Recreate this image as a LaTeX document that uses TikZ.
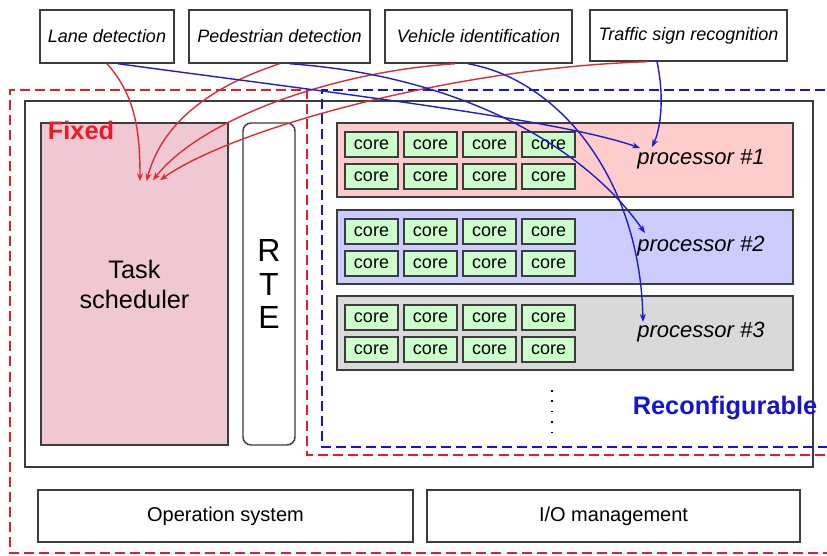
\documentclass[tikz,border=0pt]{standalone}
\usepackage{fontspec}
\setmainfont{Liberation Sans}
\usetikzlibrary{arrows.meta,calc}
\definecolor{dashred}{RGB}{232,28,36}
\definecolor{dashblue}{RGB}{20,20,210}
\definecolor{arrred}{RGB}{220,45,50}
\definecolor{arrblue}{RGB}{30,30,200}
\definecolor{edge}{RGB}{60,60,60}
\definecolor{tsfill}{RGB}{240,200,212}
\definecolor{pone}{RGB}{255,204,204}
\definecolor{ptwo}{RGB}{204,204,255}
\definecolor{pthree}{RGB}{217,217,217}
\definecolor{corefill}{RGB}{204,255,204}
\begin{document}
\begin{tikzpicture}[x=0.75pt,y=-0.75pt,
  wh/.style 2 args={minimum width=#1*0.75pt,minimum height=#2*0.75pt},
  box/.style={draw=edge,line width=1.1pt,inner sep=0pt,fill=white},
  toplbl/.style={box,font=\itshape\fontsize{13.5}{16}\selectfont},
  procbox/.style={draw=edge,line width=1.1pt,inner sep=0pt,wh={456}{74}},
  corebox/.style={draw=edge,line width=1.1pt,inner sep=0pt,fill=corefill,wh={53}{25},font=\fontsize{13.5}{16}\selectfont},
  plabel/.style={font=\itshape\fontsize{16.5}{20}\selectfont,inner sep=1pt},
  reddash/.style={draw=dashred,line width=2.2pt,dash pattern=on 7.5pt off 3.8pt},
  bluedash/.style={draw=dashblue,line width=2.2pt,dash pattern=on 7.5pt off 3.8pt},
  redarr/.style={draw=arrred,line width=1.05pt,-{Stealth[length=6pt,width=4.5pt]}},
  bluearr/.style={draw=arrblue,line width=1.05pt,-{Stealth[length=6pt,width=4.5pt]}}]
\useasboundingbox (0,0) rectangle (827,556);
\clip (0,0) rectangle (827,556);
\fill[white] (0,0) rectangle (827,556);
% top task boxes
\node[toplbl,wh={134}{53}] (lane) at (107,36.5) {Lane detection};
\node[toplbl,wh={181}{53}] (ped) at (279.5,36.5) {Pedestrian detection};
\node[toplbl,wh={187}{53}] (veh) at (478.5,36.5) {Vehicle identification};
\node[toplbl,wh={197}{51}] (traf) at (688.5,35.5) {Traffic sign recognition};
% main box
\node[box,wh={788}{366}] (main) at (419,284) {};
\node[box,fill=tsfill,wh={187}{322},align=center,
  font=\fontsize{19}{22.5}\selectfont] (ts) at (134.5,284) {Task\\scheduler};
\node[box,rounded corners=6pt,wh={52}{322},align=center,
  font=\fontsize{24}{25}\selectfont] (rte) at (269,284) {R\\T\\E};
% processors
\node[procbox,fill=pone] (p1) at (565,160) {};
\node[procbox,fill=ptwo] (p2) at (565,247) {};
\node[procbox,fill=pthree] (p3) at (565,333) {};
\foreach \p/\t in {1/123,2/210,3/296}{
  \foreach \k/\x in {1/345,2/404,3/463,4/522}{
    \foreach \r/\dy in {1/9,2/41}{
      \node[corebox] (c\p\r\k) at (\x+26.5,\t+\dy+12.5) {core};
    }}}
\node[plabel] (pl1) at (701,159) {processor \#1};
\node[plabel] (pl2) at (701,246) {processor \#2};
\node[plabel] (pl3) at (701,332) {processor \#3};
\draw[line width=1.1pt,dash pattern=on 1.2pt off 6.6pt] (552,390) -- (552,432);
% bottom boxes
\node[box,wh={375}{52},font=\fontsize{15}{18}\selectfont] (os) at (225.5,516) {Operation system};
\node[box,wh={373}{52},font=\fontsize{15}{18}\selectfont] (io) at (613.5,516) {I/O management};
% dashed regions
\draw[reddash] (840,455) -- (307,455) -- (307,90) -- (10,90) -- (10,553) -- (840,553);
\draw[bluedash] (840,90) -- (322,90) -- (322,447) -- (840,447);
\node[text=dashred,font=\bfseries\fontsize{19}{22}\selectfont,inner sep=0pt] (fixed) at (81,130) {Fixed};
\node[text=dashblue,font=\bfseries\fontsize{19}{22}\selectfont,inner sep=0pt] (reconf) at (725,408) {Reconfigurable};
% red arrows to task scheduler
\draw[redarr] (lane.south) .. controls (135,95) and (140,130) .. ($(ts.north)+(5.5,59)$);
\draw[redarr] (ped.south) .. controls (200,90) and (160,130) .. ($(ts.north)+(12,59)$);
\draw[redarr] ([xshift=-17.6pt]veh.south) .. controls (330,72) and (200,120) .. ($(ts.north)+(18.5,58)$);
\draw[redarr] ([xshift=-31pt]traf.south) .. controls (450,68) and (230,130) .. ($(ts.north)+(25.5,58)$);
% blue arrows to processors
\draw[bluearr] ([xshift=8.2pt]lane.south) .. controls (350,95) and (560,120) .. ($(p1.center)+(75,-12)$);
\draw[bluearr] ([xshift=-23.6pt]traf.south) .. controls (665,100) and (660,130) .. ($(p1.center)+(87,-13)$);
\draw[bluearr] ([xshift=7.5pt]ped.south) .. controls (450,75) and (580,140) .. ($(p2.center)+(80,-14)$);
\draw[bluearr] ([xshift=-7.9pt]veh.south) .. controls (560,80) and (640,180) .. ($(p3.center)+(78,-11)$);
\end{tikzpicture}
\end{document}
